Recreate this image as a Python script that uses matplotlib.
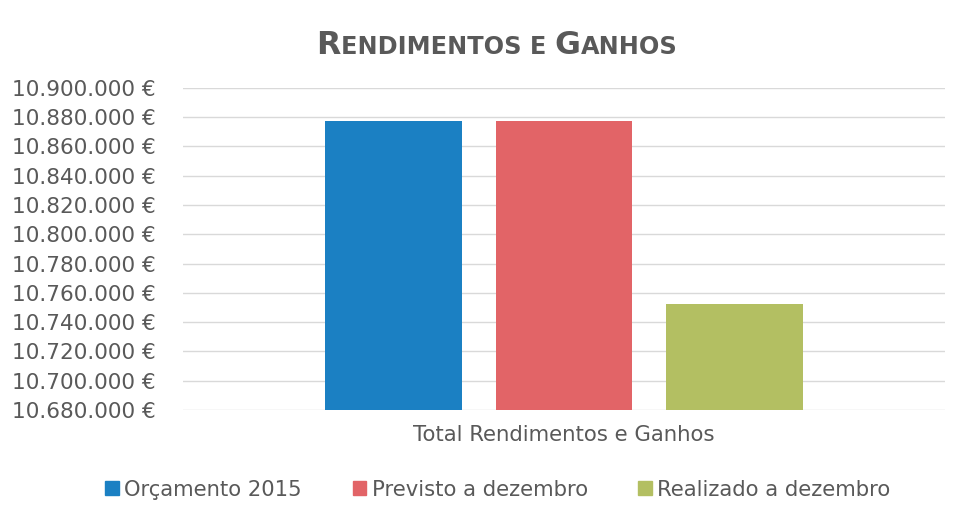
import matplotlib.pyplot as plt
from matplotlib.offsetbox import TextArea, HPacker, AnchoredOffsetbox
from matplotlib.ticker import FuncFormatter, MultipleLocator
from matplotlib.patches import Patch

series = ['Orçamento 2015', 'Previsto a dezembro', 'Realizado a dezembro']
values = [10877500, 10877500, 10752400]
colors = ['#1b80c3', '#e26467', '#b3bf62']
category = 'Total Rendimentos e Ganhos'

plt.rcParams['font.family'] = ['DejaVu Sans']
grey = '#595959'

fig = plt.figure(figsize=(9.65, 5.2), dpi=100)
ax = fig.add_axes([0.19, 0.2115, 0.789, 0.6195])

base = 10680000
for i, (v, c) in enumerate(zip(values, colors)):
    ax.bar(i, v - base, bottom=base, width=0.8, color=c, zorder=3)

ax.set_ylim(10680000, 10900000)
ax.set_xlim(-1.23, 3.23)
ax.yaxis.set_major_locator(MultipleLocator(20000))
ax.yaxis.set_major_formatter(FuncFormatter(lambda v, p: f"{v:,.0f} €".replace(',', '.')))
ax.grid(axis='y', color='#d9d9d9', linewidth=1, zorder=0)
for s in ax.spines.values():
    s.set_visible(False)
ax.tick_params(axis='y', length=0, labelsize=15.6, labelcolor=grey, pad=20)
ax.set_xticks([])
ax.set_xlabel(category, fontsize=15.3, color=grey, labelpad=11)

# small caps title
big, small = 22.8, 17.3
parts = [('R', big), ('ENDIMENTOS E ', small), ('G', big), ('ANHOS', small)]
boxes = [TextArea(t, textprops=dict(fontsize=s, color=grey, fontweight='semibold')) for t, s in parts]
pack = HPacker(children=boxes, align='baseline', pad=0, sep=0)
title = AnchoredOffsetbox(loc='center', child=pack, frameon=False,
                          bbox_to_anchor=(0.515, 0.912), bbox_transform=fig.transFigure)
fig.add_artist(title)

handles = [Patch(color=c, label=s) for s, c in zip(series, colors)]
fig.legend(handles=handles, loc='center', bbox_to_anchor=(0.516, 0.058), ncol=3,
           frameon=False, fontsize=15.2, labelcolor=grey, handlelength=0.65,
           handleheight=0.65, handletextpad=0.25, columnspacing=2.4)

fig.savefig('out.png', dpi=100, facecolor='white')
